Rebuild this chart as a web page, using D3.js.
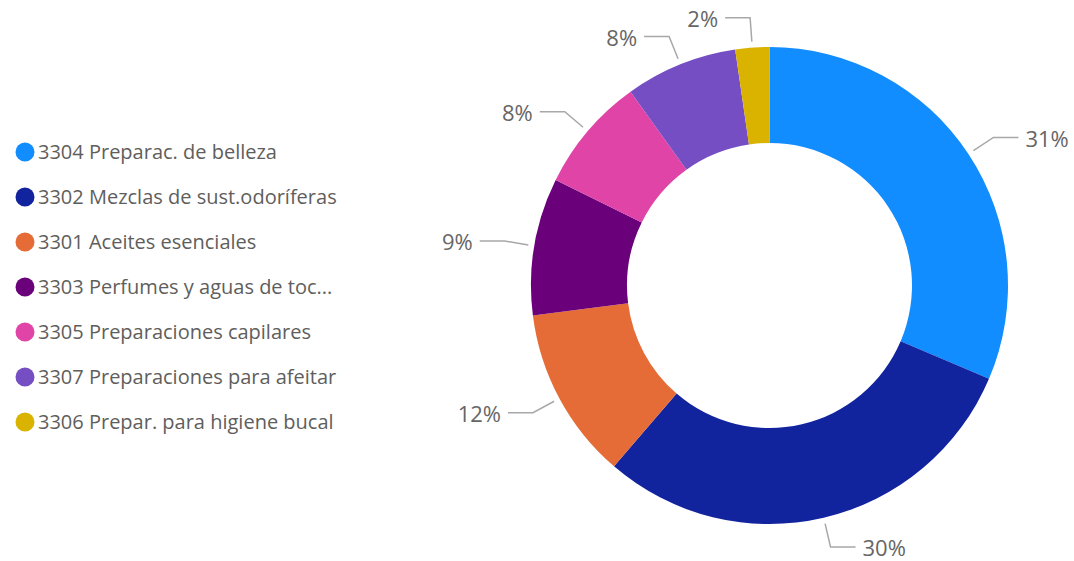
<!DOCTYPE html>
<html>
<head>
<meta charset="utf-8">
<script src="https://cdn.jsdelivr.net/npm/d3@7/dist/d3.min.js"></script>
<style>
  html, body { margin: 0; padding: 0; background: #fff; }
  svg { display: block; }
</style>
</head>
<body>
<svg id="chart" width="1074" height="561"></svg>
<script>
// Data
const categories = [
  "3304 Preparac. de belleza",
  "3302 Mezclas de sust.odoríferas",
  "3301 Aceites esenciales",
  "3303 Perfumes y aguas de toc...",
  "3305 Preparaciones capilares",
  "3307 Preparaciones para afeitar",
  "3306 Prepar. para higiene bucal"
];
const values = [31.4, 29.9, 11.7, 9.3, 7.8, 7.6, 2.3];
const colors = ["#118DFF", "#12239E", "#E66C37", "#6B007B", "#E044A7", "#744EC2", "#D9B300"];

const data = categories.map((c, i) => ({ name: c, value: values[i], color: colors[i] }));

const svg = d3.select("#chart");
const FONT = "'Open Sans', 'Noto Sans', sans-serif";

// Donut
const cx = 769.5, cy = 285.5;
const outerR = 238.5, innerR = 142.5;
const g = svg.append("g").attr("transform", `translate(${cx},${cy})`);

const pie = d3.pie().value(d => d.value).sort(null);
const arcs = pie(data);
const arc = d3.arc().innerRadius(innerR).outerRadius(outerR);

g.selectAll("path.slice")
  .data(arcs)
  .join("path")
  .attr("class", "slice")
  .attr("d", arc)
  .attr("fill", d => d.data.color);

// Leader lines and labels
const total = d3.sum(values);
const r1 = outerR + 6, r2 = outerR + 30, hLen = 25, gap = 7;
arcs.forEach(a => {
  const mid = (a.startAngle + a.endAngle) / 2;
  const sx = Math.sin(mid), sy = -Math.cos(mid);
  const p1 = [r1 * sx, r1 * sy];
  const p2 = [r2 * sx, r2 * sy];
  const dir = sx >= 0 ? 1 : -1;
  const p3 = [p2[0] + dir * hLen, p2[1]];
  g.append("polyline")
    .attr("points", [p1, p2, p3].map(p => p.join(",")).join(" "))
    .attr("fill", "none")
    .attr("stroke", "#A8A8A8")
    .attr("stroke-width", 1.5);
  g.append("text")
    .attr("x", p3[0] + dir * gap)
    .attr("y", p3[1] + 1.5)
    .attr("dy", "0.35em")
    .attr("text-anchor", dir > 0 ? "start" : "end")
    .attr("font-family", FONT)
    .attr("font-size", 22)
    .attr("fill", "#666666")
    .text(Math.round(a.data.value / total * 100) + "%");
});

// Legend
const legendY = d3.scalePoint().domain(categories).range([152, 422]);
const lg = svg.append("g");
const items = lg.selectAll("g.item").data(data).join("g")
  .attr("class", "item")
  .attr("transform", d => `translate(0,${legendY(d.name)})`);
items.append("circle")
  .attr("cx", 25).attr("cy", 0).attr("r", 9.5)
  .attr("fill", d => d.color);
items.append("text")
  .attr("x", 38).attr("y", 0).attr("dy", "0.35em")
  .attr("font-family", FONT)
  .attr("font-size", 20)
  .attr("fill", "#605E5C")
  .text(d => d.name);
</script>
</body>
</html>
